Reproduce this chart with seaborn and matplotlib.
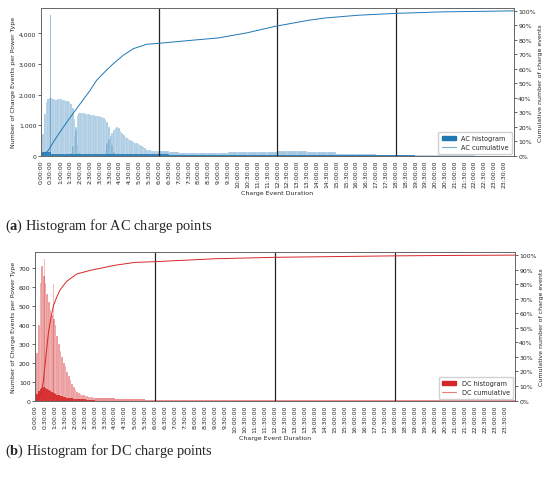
#%% ---- Load Packages ----
import numpy as np
import pandas as pd
import matplotlib
matplotlib.use("Agg")
import matplotlib.pyplot as plt
import seaborn as sns
from matplotlib.ticker import FuncFormatter, PercentFormatter, MultipleLocator
from matplotlib.patches import Patch
from matplotlib.lines import Line2D

# %% ---- Data ----
# AC histogram layers, 5 minute bins, values start at the given minute
ac_hump1_start = 0
ac_hump1 = [150, 700, 1350, 1750, 1850, 1870, 1880, 1860, 1850, 1820, 1840, 1860,
            1850, 1830, 1820, 1800, 1780, 1760, 1700, 1550, 1200, 850, 350, 80]
ac_hump2_start = 90
ac_hump2 = [80, 300, 650, 950, 1300, 1390, 1400, 1390, 1380, 1370, 1360, 1350,
            1340, 1330, 1320, 1310, 1300, 1290, 1280, 1250, 1220, 1170, 1100, 950,
            650, 350, 120, 30]
ac_hump3_start = 190
ac_hump3 = [60, 200, 400, 550, 650, 750, 850, 920, 940, 900, 820, 740,
            680, 620, 570, 530, 500, 470, 440, 420, 400, 380, 360, 330,
            290, 240, 200, 180, 170, 165, 160, 160, 155, 150]
# AC tail after 6:00, 30 minute bins
ac_tail_start = 360
ac_tail = [150, 110, 90, 85, 85, 90, 95, 110, 120, 125, 130, 135,
           160, 165, 150, 125, 120, 105, 70, 55, 50, 45, 35, 30,
           20, 15, 12, 10, 8, 8, 6, 6, 5, 5, 4, 4]
# AC dark base, 30 minute bins from 0:00
ac_base = [110, 55, 50, 50, 50, 50, 50, 50, 50, 50, 50, 50,
           40, 35, 35, 35, 35, 35, 35, 35, 35, 35, 35, 35,
           35, 35, 30, 30, 25, 25, 20, 20, 15, 15, 12, 10,
           8, 6, 5, 5, 4, 4, 3, 3, 3, 3, 2, 2]
ac_spike_min = [29]
ac_spike = [4600]

# AC cumulative share (minutes, fraction)
ac_cum_t = [0, 5, 15, 23, 40, 69, 90, 120, 150, 170, 200, 221, 251, 282, 322, 360,
            450, 540, 627, 713, 815, 866, 967, 1084, 1221, 1440]
ac_cum = [0.0, 0.005, 0.02, 0.035, 0.10, 0.197, 0.265, 0.358, 0.45, 0.52, 0.59,
          0.635, 0.693, 0.739, 0.769, 0.776, 0.795, 0.813, 0.848, 0.893, 0.935,
          0.951, 0.970, 0.983, 0.993, 1.0]

# DC histogram layers, 5 minute bins for the first 3 hours
dc_main = [120, 250, 400, 620, 710, 660, 620, 560, 520, 480, 450, 430,
           400, 340, 300, 260, 230, 200, 180, 150, 130, 110, 90, 70,
           55, 45, 40, 35, 30, 28, 25, 22, 20, 18, 17, 16]
dc_base = [20, 35, 50, 60, 65, 70, 68, 62, 55, 50, 45, 40,
           36, 32, 28, 25, 22, 20, 18, 16, 14, 12, 11, 10,
           9, 8, 8, 7, 7, 6, 6, 5, 5, 5, 4, 4]
# DC tail after 3:00, 30 minute bins
dc_tail_start = 180
dc_tail = [15, 12, 10, 8, 7, 5, 4, 3, 3, 2, 2, 2, 2, 2, 2, 2, 2, 2, 2, 2, 2,
           1, 1, 1, 1, 1, 1, 1, 1, 1, 1, 1, 1, 1, 1, 1, 1, 1, 1, 1, 1, 1]
dc_spike_min = [21, 29, 51, 56]
dc_spike = [715, 745, 560, 615]

dc_cum_t = [0, 6, 15, 20, 26, 30, 35, 41, 48, 56, 66, 76, 96, 126, 166, 240, 300,
            360, 540, 720, 900, 1080, 1260, 1440]
dc_cum = [0.0, 0.0, 0.03, 0.06, 0.13, 0.22, 0.33, 0.46, 0.56, 0.65, 0.71, 0.76,
          0.82, 0.87, 0.895, 0.93, 0.95, 0.955, 0.975, 0.985, 0.99, 0.995, 0.998, 1.0]

tick_labels = [f"{m // 60}:{m % 60:02d}:00" for m in range(0, 1440, 30)]


# %% ---- Helpers ----
def layer(ax, start, width, values, color, alpha, lw=0.0):
    edges = start + width * np.arange(len(values) + 1)
    df = pd.DataFrame({"t": edges[:-1] + width / 2, "n": values})
    sns.histplot(data=df, x="t", weights="n", bins=list(edges), ax=ax, color=color,
                 alpha=alpha, edgecolor="white", linewidth=lw, stat="count")


def panel(ax, color, layers, cum_t, cum, name, ytick_step, comma):
    for start, width, values, alpha, lw in layers:
        layer(ax, start, width, values, color, alpha, lw)
    ax.set_xlim(0, 1440)
    ax.set_xticks(np.arange(0, 1440, 30))
    ax.set_xticklabels(tick_labels, rotation=90)
    ax.yaxis.set_major_locator(MultipleLocator(ytick_step))
    if comma:
        ax.yaxis.set_major_formatter(FuncFormatter(lambda v, p: f"{int(v):,}"))
    ax.set_xlabel("Charge Event Duration", labelpad=2)
    for v in [360, 720, 1080]:
        ax.axvline(v, color="black", lw=0.9, alpha=0.85)

    ax2 = ax.twinx()
    sns.lineplot(x=cum_t, y=cum, ax=ax2, color=color, lw=0.7)
    ax2.set_ylim(0, 1.02)
    ax2.yaxis.set_major_locator(MultipleLocator(0.1))
    ax2.yaxis.set_major_formatter(PercentFormatter(1.0, decimals=0))
    ax2.set_ylabel("Cumulative number of charge events", labelpad=2)

    for a in (ax, ax2):
        a.tick_params(length=2, width=0.5, pad=1, labelsize=4.4)
        for s in a.spines.values():
            s.set_color("#666666")
            s.set_linewidth(0.6)
    handles = [Patch(facecolor=color, edgecolor=color),
               Line2D([], [], color=color, lw=0.8, alpha=0.6)]
    ax2.legend(handles, [f"{name} histogram", f"{name} cumulative"],
               loc="lower right", fontsize=4.7, frameon=True, framealpha=0.9,
               borderpad=0.5, handlelength=2.2, edgecolor="#cccccc",
               fancybox=True, borderaxespad=0.3)
    return ax2


# %% ---- Plot ----
sns.set_style("white")
plt.rcParams["font.family"] = ["DejaVu Sans"]
plt.rcParams["font.size"] = 4.5
plt.rcParams["axes.labelsize"] = 4.5
plt.rcParams["mathtext.fontset"] = "custom"
plt.rcParams["mathtext.rm"] = "Liberation Serif"
plt.rcParams["mathtext.bf"] = "Liberation Serif:bold"

fig = plt.figure(figsize=(5.5, 4.85), dpi=100)
ax_ac = fig.add_axes([0.074, 0.677, 0.8605, 0.3045])
ax_dc = fig.add_axes([0.063, 0.172, 0.8733, 0.3059])

blue = "#1f77b4"
red = "#d62728"

panel(ax_ac, blue,
      [(ac_hump1_start, 5, ac_hump1, 0.4, 0.15),
       (ac_hump2_start, 5, ac_hump2, 0.4, 0.15),
       (ac_hump3_start, 5, ac_hump3, 0.4, 0.15),
       (ac_tail_start, 30, ac_tail, 0.4, 0.15),
       (0, 30, ac_base, 0.85, 0.0)],
      ac_cum_t, ac_cum, "AC", 1000, True)
for m, c in zip(ac_spike_min, ac_spike):
    layer(ax_ac, m, 3, [c], blue, 0.45)
ax_ac.set_ylim(0, 4830)
ax_ac.set_ylabel("Number of Charge Events per Power Type", labelpad=2)

panel(ax_dc, red,
      [(0, 5, dc_main, 0.5, 0.15),
       (dc_tail_start, 30, dc_tail, 0.5, 0.0),
       (0, 5, dc_base, 0.9, 0.0)],
      dc_cum_t, dc_cum, "DC", 100, False)
for m, c in zip(dc_spike_min, dc_spike):
    layer(ax_dc, m, 2, [c], red, 0.3)
ax_dc.set_ylim(0, 783)
ax_dc.set_ylabel("Number of Charge Events per Power Type", labelpad=2)

fig.text(0.009, 0.534, r"($\mathbf{a}$) Histogram for AC charge points",
         family="Liberation Serif", fontsize=10.4, va="center")
fig.text(0.009, 0.069, r"($\mathbf{b}$) Histogram for DC charge points",
         family="Liberation Serif", fontsize=10.4, va="center")

fig.savefig("out.png", dpi=100)
